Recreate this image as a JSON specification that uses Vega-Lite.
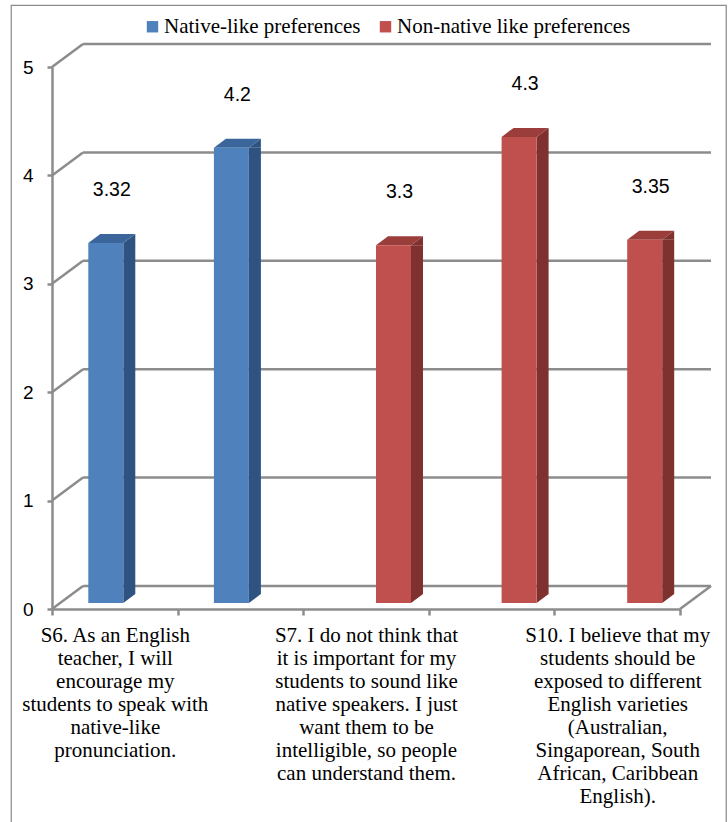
{
  "$schema": "https://vega.github.io/schema/vega-lite/v6.json",
  "width": 715,
  "height": 820,
  "autosize": {"type": "none"},
  "padding": {"left": 11, "top": 5, "right": 2, "bottom": 0},
  "background": "white",
  "config": {
    "view": {"stroke": "#8c8c8c", "strokeWidth": 1.25},
    "font": "Liberation Sans"
  },
  "datasets": {
    "bars": [
      {"item": "S6", "series": "Native-like preferences", "value": 3.32},
      {"item": "Item 2", "series": "Native-like preferences", "value": 4.2},
      {"item": "S7", "series": "Non-native like preferences", "value": 3.3},
      {"item": "Item 4", "series": "Non-native like preferences", "value": 4.3},
      {"item": "S10", "series": "Non-native like preferences", "value": 3.35}
    ],
    "grid": [{"v": 0}, {"v": 1}, {"v": 2}, {"v": 3}, {"v": 4}, {"v": 5}]
  },
  "data": {"name": "bars"},
  "resolve": {"scale": {"x": "independent"}, "axis": {"x": "independent"}},
  "layer": [
    {
      "data": {"name": "grid"},
      "mark": {"type": "rule", "color": "#8c8c8c", "strokeWidth": 2.5, "xOffset": 31, "x2Offset": 31, "yOffset": -23},
      "encoding": {
        "x": {"datum": 0, "type": "quantitative", "scale": {"domain": [0, 5], "range": [41, 669], "nice": false, "zero": false}, "axis": null},
        "x2": {"datum": 5},
        "y": {"field": "v", "type": "quantitative", "scale": {"domain": [0, 5], "range": [604, 62], "nice": false, "zero": false},
          "axis": {"title": null, "offset": -41, "values": [0, 1, 2, 3, 4, 5], "format": "d", "grid": false, "domainColor": "#8c8c8c", "domainWidth": 2.5, "tickColor": "#8c8c8c", "tickWidth": 2.5, "tickSize": 5, "labelFont": "Liberation Sans", "labelFontSize": 19, "labelColor": "#000000", "labelPadding": 14}}
      }
    },
    {
      "data": {"name": "grid"},
      "mark": {"type": "rule", "color": "#8c8c8c", "strokeWidth": 2.5, "x2Offset": 31, "y2Offset": -23},
      "encoding": {
        "x": {"datum": 0, "type": "quantitative", "scale": {"domain": [0, 5], "range": [41, 669], "nice": false, "zero": false}, "axis": null},
        "x2": {"datum": 0},
        "y": {"field": "v", "type": "quantitative"},
        "y2": {"field": "v"}
      }
    },
    {
      "data": {"values": [{"v": 0}]},
      "mark": {"type": "rule", "color": "#8c8c8c", "strokeWidth": 2.5, "x2Offset": 31, "y2Offset": -23},
      "encoding": {
        "x": {"datum": 5, "type": "quantitative", "scale": {"domain": [0, 5], "range": [41, 669], "nice": false, "zero": false}, "axis": null},
        "x2": {"datum": 5},
        "y": {"field": "v", "type": "quantitative"},
        "y2": {"field": "v"}
      }
    },
    {
      "transform": [{"filter": "datum.series == 'Native-like preferences'"}],
      "encoding": {
        "x": {"field": "item", "type": "nominal", "sort": null, "scale": {"domain": ["S6", "Item 2", "S7", "Item 4", "S10"], "range": [41, 669], "paddingInner": 0, "paddingOuter": 0}, "axis": null},
        "y": {"field": "value", "type": "quantitative"}
      },
      "layer": [
        {
          "mark": {"type": "bar", "width": 12, "xOffset": 14.5, "yOffset": -6, "y2Offset": -15, "color": "#2f5380"},
          "encoding": {"y2": {"datum": 0}}
        },
        {
          "mark": {"type": "point", "shape": "M0,0 L12,-9 L12,0 Z", "size": 4, "filled": true, "opacity": 1, "strokeWidth": 0, "xOffset": 8.5, "yOffset": -6, "color": "#2f5380"}
        },
        {
          "mark": {"type": "point", "shape": "M0,0 L0,-9 L12,-9 Z", "size": 4, "filled": true, "opacity": 1, "strokeWidth": 0, "xOffset": 8.5, "yOffset": -6, "color": "#2f5380"},
          "encoding": {"y": {"datum": 0, "type": "quantitative"}}
        },
        {
          "mark": {"type": "point", "shape": "M-35,0 L0,0 L12,-9 L-23,-9 Z", "size": 4, "filled": true, "opacity": 1, "strokeWidth": 0, "xOffset": 8.5, "yOffset": -6, "color": "#3b669b"}
        },
        {
          "mark": {"type": "bar", "width": 35, "xOffset": -9, "yOffset": -6, "y2Offset": -6},
          "encoding": {
            "y2": {"datum": 0},
            "color": {"field": "series", "type": "nominal",
              "scale": {"domain": ["Native-like preferences", "Non-native like preferences"], "range": ["#4f81bd", "#c0504d"]},
              "legend": {"title": null, "orient": "none", "legendX": 131, "legendY": 11, "direction": "horizontal", "symbolType": "square", "symbolSize": 130, "symbolStrokeWidth": 0, "labelFont": "Liberation Serif", "labelFontSize": 21, "labelColor": "#000000", "labelOffset": 1, "columnPadding": 14, "padding": 0, "labelLimit": 0}}
          }
        },
        {
          "mark": {"type": "text", "xOffset": -3, "yOffset": -6, "dy": -53, "font": "Liberation Sans", "fontSize": 19.5, "color": "#000000", "baseline": "middle", "align": "center"},
          "encoding": {"text": {"field": "value", "type": "nominal"}}
        }
      ]
    },
    {
      "transform": [{"filter": "datum.series == 'Non-native like preferences'"}],
      "encoding": {
        "x": {"field": "item", "type": "nominal", "sort": null, "title": null,
          "scale": {"domain": ["S6", "Item 2", "S7", "Item 4", "S10"], "range": [41, 669], "paddingInner": 0, "paddingOuter": 0},
          "axis": {"offset": -216, "title": null, "tickBand": "extent", "tickSize": 6, "tickColor": "#8c8c8c", "tickWidth": 2.5, "domainColor": "#8c8c8c", "domainWidth": 2.5, "labelAngle": 0, "labelAlign": "center", "labelBaseline": "top", "labelPadding": 9, "labelFont": "Liberation Serif", "labelFontSize": 21, "labelLineHeight": 23, "labelColor": "#000000", "labelLimit": 0, "labelOverlap": false,
            "labelExpr": "datum.value == 'S6' ? ['S6. As an English', 'teacher, I will', 'encourage my', 'students to speak with', 'native-like', 'pronunciation.'] : datum.value == 'S7' ? ['S7. I do not think that', 'it is important for my', 'students to sound like', 'native speakers. I just', 'want them to be', 'intelligible, so people', 'can understand them.'] : datum.value == 'S10' ? ['S10. I believe that my', 'students should be', 'exposed to different', 'English varieties', '(Australian,', 'Singaporean, South', 'African, Caribbean', 'English).'] : ''"}},
        "y": {"field": "value", "type": "quantitative"}
      },
      "layer": [
        {
          "mark": {"type": "bar", "width": 12, "xOffset": 51, "yOffset": -6, "y2Offset": -15, "color": "#7f3130"},
          "encoding": {"y2": {"datum": 0}}
        },
        {
          "mark": {"type": "point", "shape": "M0,0 L12,-9 L12,0 Z", "size": 4, "filled": true, "opacity": 1, "strokeWidth": 0, "xOffset": 45, "yOffset": -6, "color": "#7f3130"}
        },
        {
          "mark": {"type": "point", "shape": "M0,0 L0,-9 L12,-9 Z", "size": 4, "filled": true, "opacity": 1, "strokeWidth": 0, "xOffset": 45, "yOffset": -6, "color": "#7f3130"},
          "encoding": {"y": {"datum": 0, "type": "quantitative"}}
        },
        {
          "mark": {"type": "point", "shape": "M-35,0 L0,0 L12,-9 L-23,-9 Z", "size": 4, "filled": true, "opacity": 1, "strokeWidth": 0, "xOffset": 45, "yOffset": -6, "color": "#9a3d3b"}
        },
        {
          "mark": {"type": "bar", "width": 35, "xOffset": 27.5, "yOffset": -6, "y2Offset": -6},
          "encoding": {
            "y2": {"datum": 0},
            "color": {"field": "series", "type": "nominal"}
          }
        },
        {
          "mark": {"type": "text", "xOffset": 33.5, "yOffset": -6, "dy": -53, "font": "Liberation Sans", "fontSize": 19.5, "color": "#000000", "baseline": "middle", "align": "center"},
          "encoding": {"text": {"field": "value", "type": "nominal"}}
        }
      ]
    }
  ]
}
